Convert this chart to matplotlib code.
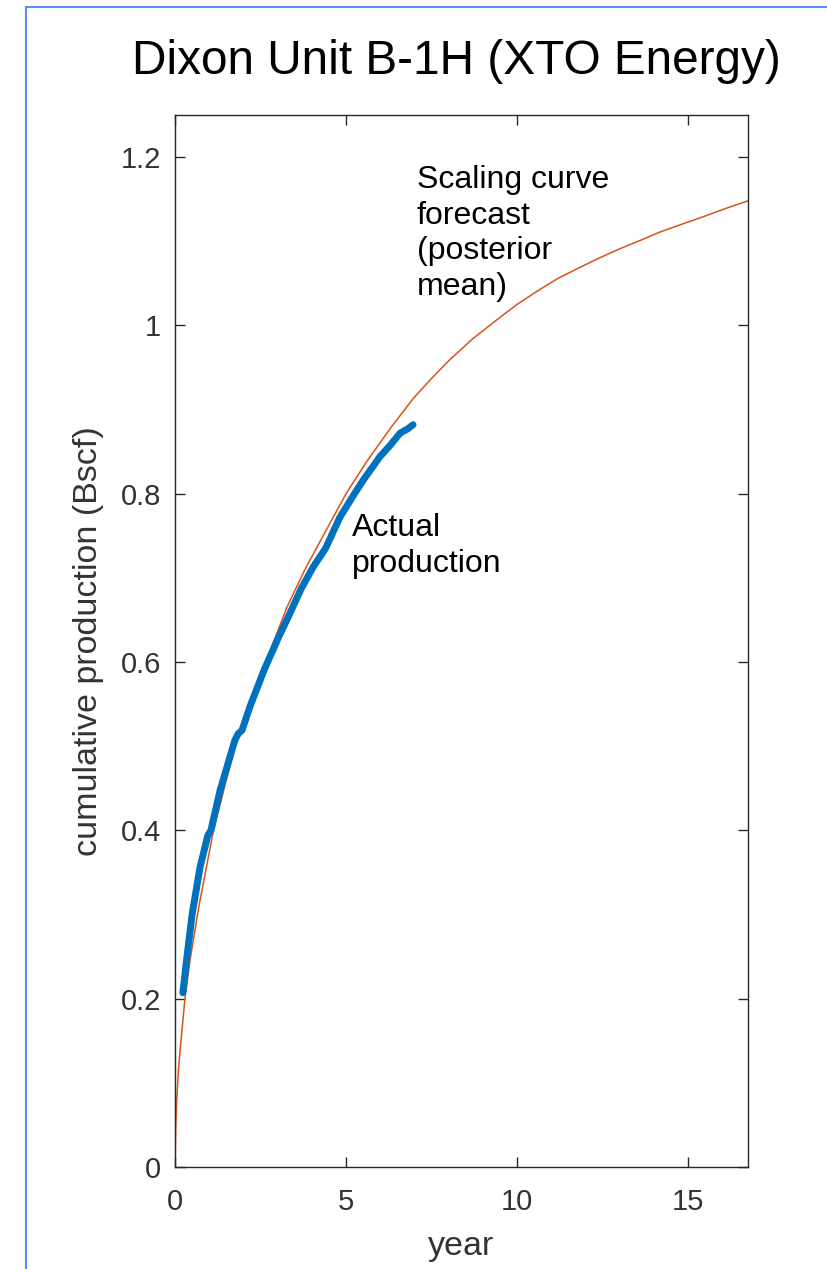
import matplotlib
matplotlib.use("Agg")
import matplotlib.pyplot as plt
from matplotlib.lines import Line2D
from matplotlib.ticker import FuncFormatter

plt.rcParams['font.family'] = ['Liberation Sans', 'DejaVu Sans']

# Scaling curve forecast (posterior mean)
forecast_year = [0, 0.02, 0.05, 0.1, 0.15, 0.29, 0.44, 0.7, 1.11, 1.5, 1.81, 2.28, 2.8,
                 3.27, 3.8, 4.33, 5.0, 5.6, 6.3, 6.96, 7.5, 8.0, 8.7, 9.42, 10.0, 10.6,
                 11.2, 11.84, 12.4, 13.0, 13.6, 14.18, 14.8, 15.5, 16.1, 16.75]
forecast_prod = [0, 0.045, 0.08, 0.115, 0.139, 0.20, 0.246, 0.31, 0.397, 0.46, 0.507, 0.56,
                 0.615, 0.665, 0.71, 0.75, 0.80, 0.838, 0.878, 0.913, 0.937, 0.958, 0.984,
                 1.007, 1.025, 1.041, 1.056, 1.069, 1.080, 1.091, 1.101, 1.111, 1.120,
                 1.130, 1.139, 1.148]

# Actual production
actual_year = [0.23, 0.35, 0.5, 0.73, 0.96, 1.05, 1.32, 1.75, 1.85, 1.96, 2.19, 2.6,
               3.0, 3.36, 3.7, 4.04, 4.4, 4.82, 5.2, 5.5, 5.99, 6.3, 6.58, 6.8, 6.96]
actual_prod = [0.207, 0.25, 0.30, 0.356, 0.394, 0.40, 0.448, 0.507, 0.515, 0.519, 0.547,
               0.59, 0.627, 0.658, 0.688, 0.713, 0.735, 0.772, 0.797, 0.816, 0.844, 0.858,
               0.872, 0.877, 0.882]

x_ticks = [0, 5, 10, 15]
y_ticks = [0, 0.2, 0.4, 0.6, 0.8, 1.0, 1.2]

W, H = 828, 1269
fig = plt.figure(figsize=(W / 100, H / 100), dpi=100)

# Slide border (blue lines at left and top)
border_col = '#5a8ef2'
fig.add_artist(Line2D([26 / W, 26 / W], [0, 1 - 7 / H], transform=fig.transFigure,
                      color=border_col, lw=1.5))
fig.add_artist(Line2D([26 / W, 1], [1 - 7 / H, 1 - 7 / H], transform=fig.transFigure,
                      color=border_col, lw=1.5))

left, right, bottom, top = 175 / W, 748 / W, 1 - 1167 / H, 1 - 115 / H
ax = fig.add_axes([left, bottom, right - left, top - bottom])

ax.plot(forecast_year, forecast_prod, color='#D95319', lw=1.1, zorder=2)
ax.plot(actual_year, actual_prod, color='#0072BD', lw=5, solid_capstyle='round', zorder=3)

ax.set_xlim(0, 16.75)
ax.set_ylim(0, 1.25)
ax.set_xticks(x_ticks)
ax.set_yticks(y_ticks)
ax.yaxis.set_major_formatter(FuncFormatter(lambda v, p: f"{v:g}"))

axcol = '#262626'
for s in ax.spines.values():
    s.set_color(axcol)
    s.set_linewidth(1.0)
ax.tick_params(direction='in', length=7, width=1.0, color=axcol, labelcolor='#333333',
               labelsize=21, top=True, right=True)
ax.tick_params(axis='x', pad=15)
ax.tick_params(axis='y', pad=10)

ax.set_xlabel('year', fontsize=24.5, color='#333333', labelpad=11)
ax.set_ylabel('cumulative production (Bscf)', fontsize=24.5, color='#333333', labelpad=12)

fig.text(456 / W, 1 - 62 / H, 'Dixon Unit B-1H (XTO Energy)', fontsize=34.4,
         ha='center', va='center', color='black')

fig.text(417 / W, 1 - 165 / H, 'Scaling curve\nforecast\n(posterior\nmean)', fontsize=23,
         ha='left', va='top', linespacing=1.25, color='black')
fig.text(352 / W, 1 - 513 / H, 'Actual\nproduction', fontsize=23,
         ha='left', va='top', linespacing=1.25, color='black')

fig.savefig('out.png', dpi=100)
